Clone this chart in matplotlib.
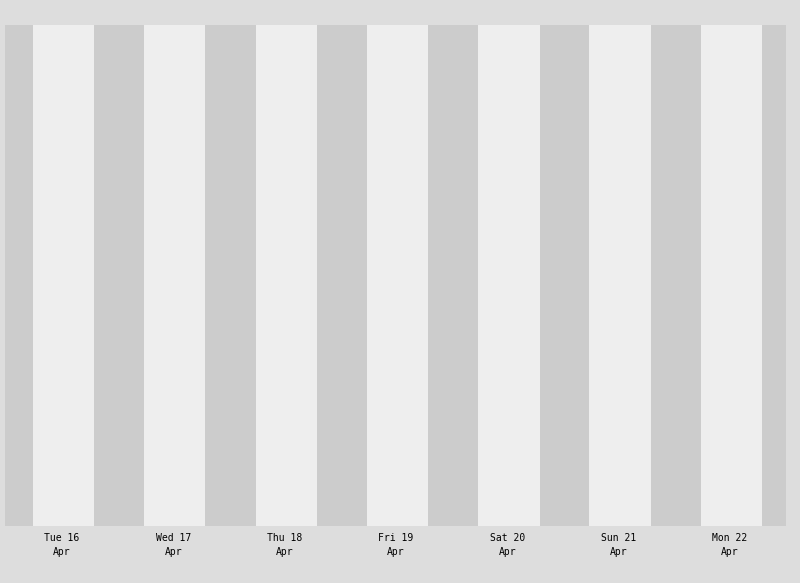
import matplotlib
matplotlib.use("Agg")
import matplotlib.pyplot as plt

# Data: days (hours from Apr 16 00:00), sunrise / sunset hours per day
day_labels = ["Tue 16\nApr", "Wed 17\nApr", "Thu 18\nApr", "Fri 19\nApr",
              "Sat 20\nApr", "Sun 21\nApr", "Mon 22\nApr"]
day_offsets = [0, 1, 2, 3, 4, 5, 6]
sunrise = [5.75, 5.73, 5.72, 5.70, 5.68, 5.67, 5.65]
sunset = [18.90, 18.92, 18.93, 18.95, 18.97, 18.98, 19.00]

fig = plt.figure(figsize=(8.0, 5.83), dpi=100, facecolor="#dddddd")
ax = fig.add_axes([5 / 800, 57 / 583, 781 / 800, 501 / 583])
ax.set_facecolor("#cccccc")

for d, sr, ss in zip(day_offsets, sunrise, sunset):
    ax.axvspan(d * 24 + sr, d * 24 + ss, color="#eeeeee", lw=0)

ax.set_xlim(-0.29, 168.08)
ax.set_ylim(0, 1)
ax.set_xticks([d * 24 + 12 for d in day_offsets])
ax.set_xticklabels(day_labels, fontfamily="DejaVu Sans Mono", fontsize=7,
                   linespacing=1.45, color="black")
ax.tick_params(axis="x", length=0, pad=5)
ax.set_yticks([])
for s in ax.spines.values():
    s.set_visible(False)

fig.savefig("out.png", dpi=100, facecolor=fig.get_facecolor())
